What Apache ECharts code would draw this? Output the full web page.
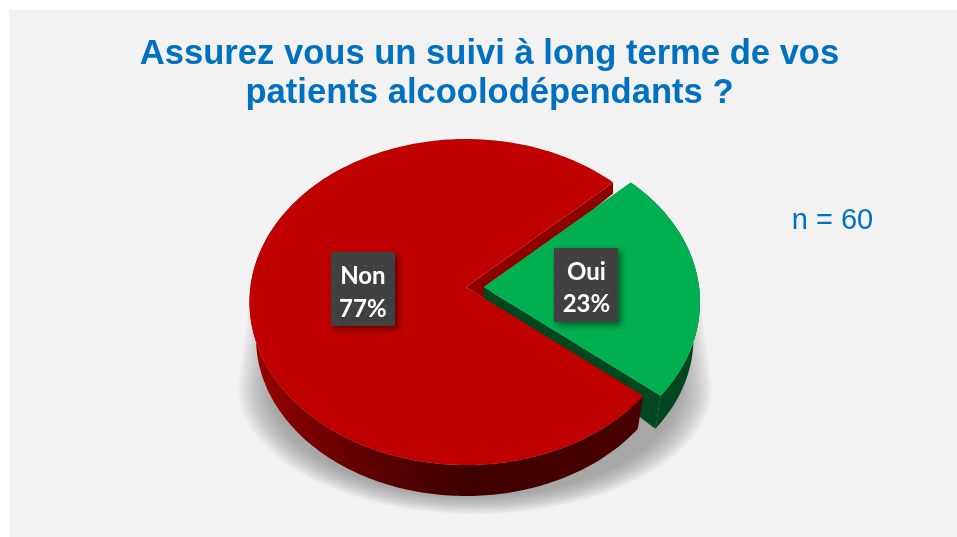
<!DOCTYPE html>
<html>
<head>
<meta charset="utf-8">
<style>html,body{margin:0;padding:0;background:#fff}#c{width:957px;height:537px}</style>
<script src="https://cdn.jsdelivr.net/npm/echarts@6/dist/echarts.min.js"></script>
</head>
<body>
<div id="c"></div>
<script>
const categories = ['Oui', 'Non'];
const values = [23, 77];
const titleLines = ['Assurez vous un suivi à long terme de vos', 'patients alcoolodépendants ?'];
const sampleNote = 'n = 60';

const startDeg = 46.5;
const tilt = -0.092;
const TOP = { cx: 466, cy: 302, rx: 216.5, ry: 163 };
const BOTTOM = { cx: 466, cy: 338, rx: 210, ry: 158 };
const EXPLODE = 17.5;
const APEX_DROP = 11;

function project(e, deg, t, dx) {
  const a = deg * Math.PI / 180;
  const u = Math.sin(a) * t, v = -Math.cos(a) * t;
  const d = 1 + tilt * v;
  return [e.cx + dx + e.rx * u * Math.sqrt(1 - tilt * tilt) / d, e.cy + e.ry * (v + tilt) / d];
}
function arc(e, a0, a1, dx) {
  const n = Math.ceil(Math.abs(a1 - a0)), out = [];
  for (let i = 0; i <= n; i++) out.push(project(e, a0 + (a1 - a0) * i / n, 1, dx));
  return out;
}
function castShadowLayers() {
  const cx = 475, cy = 387, rx = 237, ry = 127, topY = 300, topInset = 12;
  const layers = [], count = 16;
  for (let k = 0; k < count; k++) {
    const s = 1 - 0.14 * k / (count - 1);
    const pts = [[cx - (rx - topInset) * s, cy - (cy - topY)], [cx + (rx - topInset) * s, cy - (cy - topY)]];
    for (let d = 0; d <= 180; d += 3) {
      const a = d * Math.PI / 180;
      pts.push([cx + rx * s * Math.cos(a), cy + ry * s * Math.sin(a)]);
    }
    layers.push({ type: 'polygon', z2: 1, shape: { points: pts }, style: { fill: 'rgba(110,110,110,0.05)' } });
  }
  return layers;
}

const patternCanvas = document.createElement('canvas');
patternCanvas.width = 16; patternCanvas.height = 16;
(function () {
  const g = patternCanvas.getContext('2d');
  g.fillStyle = '#404040'; g.fillRect(0, 0, 16, 16);
  g.fillStyle = '#505050';
  [[2, 2], [10, 2], [6, 10], [14, 10]].forEach(p => { g.beginPath(); g.arc(p[0], p[1], 1.1, 0, 7); g.fill(); });
})();

const total = values.reduce((a, b) => a + b, 0);

function renderSlice(params, api) {
  const i = params.dataIndex;
  const before = values.slice(0, i).reduce((a, b) => a + b, 0);
  const a0 = startDeg + before / total * 360;
  const a1 = a0 + api.value(0) / total * 360;
  const mid = (a0 + a1) / 2;
  const isGreen = i === 0;
  const dx = isGreen ? EXPLODE : 0;
  const apex = project(TOP, 0, 0, dx);
  const children = [];

  if (isGreen) {
    castShadowLayers().forEach(l => children.push(l));
    const topArc = arc(TOP, a0, a1, dx), botArc = arc(BOTTOM, a0, a1, dx);
    children.push({ type: 'polygon', z2: 3, shape: { points: topArc.concat(botArc.reverse()) }, style: { fill: '#00461f' } });
    const end = project(TOP, a1, 1, dx), endB = project(BOTTOM, a1, 1, dx);
    children.push({ type: 'polygon', z2: 4, shape: { points: [apex, end, endB, [apex[0], apex[1] + APEX_DROP]] }, style: { fill: '#00461f' } });
    children.push({ type: 'polygon', z2: 5, shape: { points: [apex].concat(arc(TOP, a0, a1, dx)) }, style: { fill: '#00b050' } });
  } else {
    const topArc = arc(TOP, a0, a1, dx), botArc = arc(BOTTOM, a0, a1, dx);
    const s = project(TOP, a1, 1, dx);
    children.push({
      type: 'polygon', z2: 2,
      shape: { points: [apex, s, [s[0], s[1] + APEX_DROP], [apex[0] + EXPLODE, apex[1] + APEX_DROP]] },
      style: { fill: '#8e0000' }
    });
    children.push({
      type: 'polygon', z2: 6, shape: { points: topArc.slice(0, 195).concat(botArc.slice(0, 195).reverse()) },
      style: { fill: { type: 'linear', x: 250, y: 0, x2: 640, y2: 0, global: true, colorStops: [
        { offset: 0, color: '#9c0000' }, { offset: 0.12, color: '#800000' }, { offset: 0.3, color: '#5e0000' },
        { offset: 0.55, color: '#400000' }, { offset: 1, color: '#4a0000' }] } }
    });
    children.push({ type: 'polygon', z2: 7, shape: { points: [apex].concat(topArc) }, style: { fill: '#c00000' } });
  }

  const c = project(TOP, mid + 0.5, 0.478, dx);
  const W = 64, H = 74;
  children.push({
    type: 'rect', z2: 10, shape: { x: Math.round(c[0] - W / 2), y: Math.round(c[1] - H / 2), width: W, height: H },
    style: { fill: { image: patternCanvas, repeat: 'repeat' }, shadowBlur: 7, shadowOffsetX: 3, shadowOffsetY: 3, shadowColor: 'rgba(0,0,0,0.5)' }
  });
  children.push({
    type: 'text', z2: 11, x: c[0], y: c[1] + 3.5,
    style: {
      text: categories[i] + '\n' + api.value(0) + '%', fill: '#fff', align: 'center', verticalAlign: 'middle',
      font: 'bold 24px Lato', lineHeight: 32.5
    }
  });
  return { type: 'group', children };
}

const chart = echarts.init(document.getElementById('c'), null, { renderer: 'canvas' });
chart.setOption({
  animation: false,
  backgroundColor: '#ffffff',
  title: {
    text: titleLines.join('\n'), left: 484.5, top: 30, textAlign: 'center',
    textStyle: { fontFamily: 'Liberation Sans', fontWeight: 'bold', fontSize: 34.6, lineHeight: 39, color: '#0070c0' }
  },
  graphic: [
    { type: 'rect', z: -1, shape: { x: 9, y: 10, width: 948, height: 527 }, style: { fill: '#f2f2f2' } },
    { type: 'text', z: 5, x: 832.5, y: 221, style: { text: sampleNote, fill: '#0070c0', align: 'center', verticalAlign: 'middle', font: '29px "Liberation Sans"' } }
  ],
  series: [{
    type: 'custom', coordinateSystem: 'none', renderItem: renderSlice,
    data: categories.map((name, i) => ({ name, value: [values[i]] }))
  }]
});
</script>
</body>
</html>
